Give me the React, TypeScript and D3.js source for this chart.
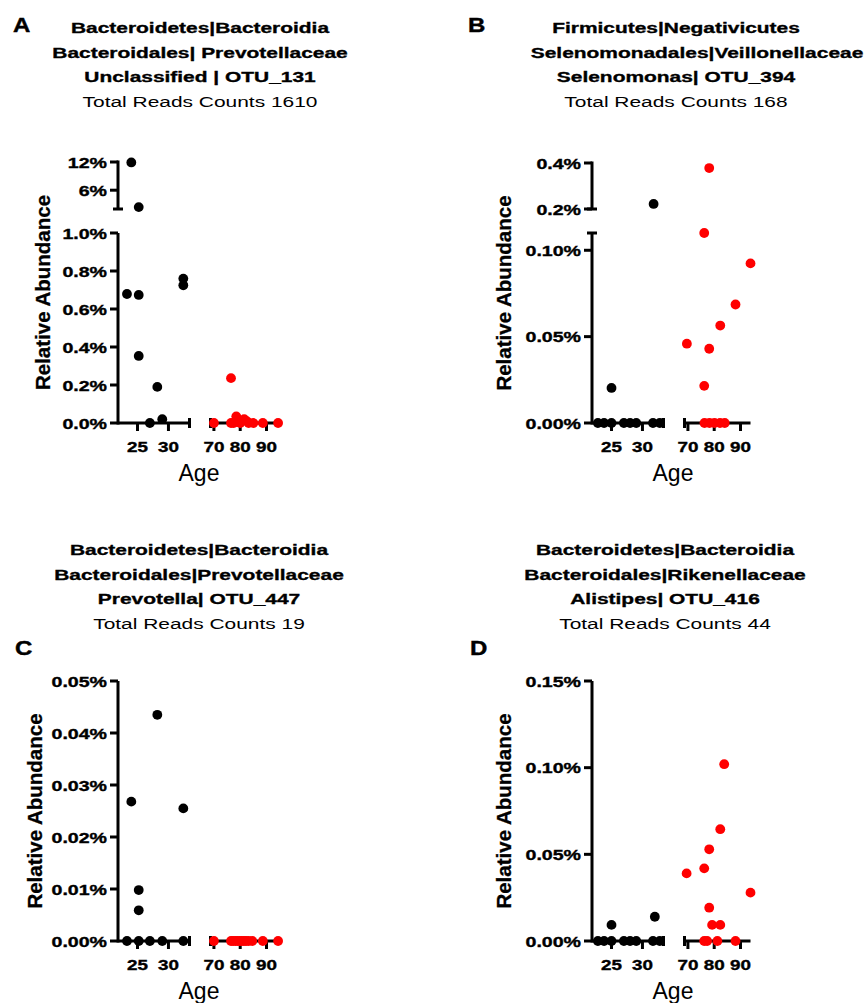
import React from "react";
import * as d3 from "d3";

type Pt = [number, number]; // [age, relative abundance in %]

const youngTicks = [25, 30];
const oldTicks = [70, 80, 90];

// A: Prevotellaceae OTU_131
const youngA: Pt[] = [
  [23.3, 0.679], [24, 11.9], [25.2, 2.4], [25.2, 0.674], [25.2, 0.353],
  [27, 0], [28.2, 0.19], [29, 0.02], [32.4, 0.76], [32.4, 0.725],
];
const oldA: Pt[] = [
  [70, 0], [76.5, 0.236], [76.5, 0], [77.5, 0], [78.5, 0.035], [79.2, 0.01],
  [80, 0], [81.5, 0.02], [82.5, 0.01], [83.2, 0], [85, 0], [88.6, 0], [94.4, 0],
];

// B: Selenomonas OTU_394
const youngB: Pt[] = [
  [22.8, 0], [23.8, 0], [25, 0], [25, 0.0203], [27, 0], [28, 0], [29, 0],
  [31.7, 0], [32.8, 0], [31.8, 0.222],
];
const oldB: Pt[] = [
  [69.6, 0.0459], [76.2, 0.11], [76.2, 0.0215], [78.1, 0.378], [78.1, 0.043],
  [82.3, 0.0564], [88.1, 0.0686], [93.8, 0.0924],
  [76.3, 0], [78.2, 0], [80.1, 0], [82.2, 0], [84, 0],
];

// C: Prevotella OTU_447
const youngC: Pt[] = [
  [23.3, 0], [24, 0.0268], [25.2, 0.0098], [25.2, 0.0059], [25.2, 0], [27, 0],
  [28.2, 0.0435], [29, 0], [32.4, 0.0255], [32.4, 0],
];
const oldC: Pt[] = [
  [70, 0], [76.5, 0], [77.3, 0], [78.2, 0], [79, 0], [79.8, 0], [80.6, 0],
  [81.4, 0], [82.2, 0], [83.2, 0], [84.6, 0], [88.6, 0], [94.4, 0],
];

// D: Alistipes OTU_416
const youngD: Pt[] = [
  [22.8, 0], [23.8, 0], [25, 0], [25, 0.0093], [27, 0], [28, 0], [29, 0],
  [31.7, 0], [32.8, 0], [32, 0.014],
];
const oldD: Pt[] = [
  [69.5, 0.039], [76.2, 0.0419], [76.2, 0], [77.3, 0], [78.1, 0.0529],
  [78.1, 0.0192], [79.2, 0.0093], [81.2, 0], [82.3, 0.0093], [82.3, 0.0645],
  [83.8, 0.102], [88.1, 0], [93.8, 0.0279],
];

const titleA = ["Bacteroidetes|Bacteroidia", "Bacteroidales| Prevotellaceae", "Unclassified | OTU_131", "Total Reads Counts 1610"];
const titleB = ["Firmicutes|Negativicutes", "Selenomonadales|Veillonellaceae", "Selenomonas| OTU_394", "Total Reads Counts 168"];
const titleC = ["Bacteroidetes|Bacteroidia", "Bacteroidales|Prevotellaceae", "Prevotella| OTU_447", "Total Reads Counts 19"];
const titleD = ["Bacteroidetes|Bacteroidia", "Bacteroidales|Rikenellaceae", "Alistipes| OTU_416", "Total Reads Counts 44"];

const FONT = "'Liberation Sans', Arial, Helvetica, sans-serif";
const SX = 1.35; // the figure's labels are set in a wide face

const fmt1 = (d: number) => d.toFixed(1) + "%";
const fmt2 = (d: number) => d.toFixed(2) + "%";
const fmt0 = (d: number) => d + "%";

const panels = [
  {
    letter: "A", lx: 13, ly: 32, tx: 200, ty: 33, tdx: [0, 0, 0, 0], title: titleA,
    axisX: 118, y0: 423, lowTop: 233, lowMax: 1.0, lowTicks: [0, 0.2, 0.4, 0.6, 0.8, 1.0], lowFmt: fmt1,
    upper: { min: 2, max: 12, bottom: 209, top: 162, ticks: [6, 12], fmt: fmt0 },
    yLabelX: 50, young: youngA, old: oldA,
  },
  {
    letter: "B", lx: 468, ly: 32, tx: 676, ty: 33, tdx: [0, 21, 0, 0], title: titleB,
    axisX: 592, y0: 423, lowTop: 233, lowMax: 0.11, lowTicks: [0, 0.05, 0.1], lowFmt: fmt2,
    upper: { min: 0.2, max: 0.4, bottom: 209, top: 163, ticks: [0.2, 0.4], fmt: fmt1 },
    yLabelX: 511, young: youngB, old: oldB,
  },
  {
    letter: "C", lx: 15, ly: 655, tx: 199, ty: 555, tdx: [0, 0, 0, 0], title: titleC,
    axisX: 118, y0: 941, lowTop: 681, lowMax: 0.05, lowTicks: [0, 0.01, 0.02, 0.03, 0.04, 0.05], lowFmt: fmt2,
    upper: null,
    yLabelX: 42, young: youngC, old: oldC,
  },
  {
    letter: "D", lx: 470, ly: 655, tx: 665, ty: 555, tdx: [0, 0, 0, 0], title: titleD,
    axisX: 592, y0: 941, lowTop: 681, lowMax: 0.15, lowTicks: [0, 0.05, 0.1, 0.15], lowFmt: fmt2,
    upper: null,
    yLabelX: 511, young: youngD, old: oldD,
  },
];

function WideText({ x, y, size, weight, anchor, sx, children }: any) {
  const bold = weight === "bold";
  return (
    <text
      transform={`translate(${x},${y}) scale(${sx},1)`}
      fontSize={size}
      fontWeight={weight}
      textAnchor={anchor}
      fontFamily={FONT}
      fill="#000"
      stroke={bold ? "#000" : "none"}
      strokeWidth={bold ? 0.35 : 0}
    >
      {children}
    </text>
  );
}

function Panel({ p }: any) {
  const xYoung = d3.scaleLinear().domain([21.85, 33.4]).range([p.axisX, p.axisX + 71.5]);
  const xOld = d3.scaleLinear().domain([68.7, 93.8]).range([p.axisX + 92.5, p.axisX + 158.5]);
  const yLow = d3.scaleLinear().domain([0, p.lowMax]).range([p.y0, p.lowTop]);
  const yUp = p.upper
    ? d3.scaleLinear().domain([p.upper.min, p.upper.max]).range([p.upper.bottom, p.upper.top])
    : null;
  const yOf = (v: number) => (yUp && v > p.lowMax ? yUp(v) : yLow(v));
  const sw = 3;
  const tick = 8;
  const cap = 5;

  return (
    <g>
      <text x={p.lx} y={p.ly} fontSize={20} fontWeight="bold" fontFamily={FONT}
        stroke="#000" strokeWidth={0.4}
        transform={`translate(${p.lx},0) scale(1.2,1) translate(${-p.lx},0)`}>
        {p.letter}
      </text>
      {p.title.map((t: string, i: number) => (
        <WideText key={i} x={p.tx + p.tdx[i]} y={p.ty + i * 24.5} size={15.5}
          weight={i < 3 ? "bold" : "normal"} anchor="middle" sx={SX}>
          {t}
        </WideText>
      ))}

      {/* y axis, lower segment */}
      <line x1={p.axisX} x2={p.axisX} y1={p.y0 + sw / 2} y2={p.lowTop} stroke="#000" strokeWidth={sw} />
      {p.lowTicks.map((t: number) => (
        <g key={"yl" + t}>
          <line x1={p.axisX - tick} x2={p.axisX} y1={yLow(t)} y2={yLow(t)} stroke="#000" strokeWidth={sw} />
          <WideText x={p.axisX - 11} y={yLow(t) + 5.5} size={14.5} weight="bold" anchor="end" sx={SX}>
            {p.lowFmt(t)}
          </WideText>
        </g>
      ))}
      {p.upper && Math.abs(yLow(p.lowMax) - yLow(p.lowTicks[p.lowTicks.length - 1])) > 1 && (
        <line x1={p.axisX - cap} x2={p.axisX + cap} y1={p.lowTop} y2={p.lowTop} stroke="#000" strokeWidth={sw} />
      )}

      {/* y axis, upper segment */}
      {p.upper && yUp && (
        <g>
          <line x1={p.axisX} x2={p.axisX} y1={p.upper.bottom} y2={p.upper.top - sw / 2} stroke="#000" strokeWidth={sw} />
          <line x1={p.axisX - cap} x2={p.axisX + cap} y1={p.upper.bottom} y2={p.upper.bottom} stroke="#000" strokeWidth={sw} />
          {p.upper.ticks.map((t: number) => (
            <g key={"yu" + t}>
              <line x1={p.axisX - tick} x2={p.axisX} y1={yUp(t)} y2={yUp(t)} stroke="#000" strokeWidth={sw} />
              <WideText x={p.axisX - 11} y={yUp(t) + 5.5} size={14.5} weight="bold" anchor="end" sx={SX}>
                {p.upper.fmt(t)}
              </WideText>
            </g>
          ))}
        </g>
      )}

      <text
        transform={`translate(${p.yLabelX},${(p.y0 + (p.upper ? p.upper.top : p.lowTop)) / 2}) rotate(-90)`}
        fontSize={20.5} fontWeight="bold" textAnchor="middle" fontFamily={FONT}
        stroke="#000" strokeWidth={0.3}>
        Relative Abundance
      </text>

      {/* x axis, young segment */}
      <line x1={p.axisX} x2={xYoung.range()[1]} y1={p.y0} y2={p.y0} stroke="#000" strokeWidth={sw} />
      <line x1={xYoung.range()[1]} x2={xYoung.range()[1]} y1={p.y0 - cap} y2={p.y0 + cap} stroke="#000" strokeWidth={sw} />
      {youngTicks.map((t) => (
        <g key={"xy" + t}>
          <line x1={xYoung(t)} x2={xYoung(t)} y1={p.y0} y2={p.y0 + tick} stroke="#000" strokeWidth={sw} />
          <WideText x={xYoung(t)} y={p.y0 + 29} size={14.5} weight="bold" anchor="middle" sx={1.3}>
            {t}
          </WideText>
        </g>
      ))}

      {/* x axis, old segment */}
      <line x1={xOld.range()[0]} x2={xOld.range()[1]} y1={p.y0} y2={p.y0} stroke="#000" strokeWidth={sw} />
      <line x1={xOld.range()[0]} x2={xOld.range()[0]} y1={p.y0 - cap} y2={p.y0 + cap} stroke="#000" strokeWidth={sw} />
      {oldTicks.map((t) => (
        <g key={"xo" + t}>
          <line x1={xOld(t)} x2={xOld(t)} y1={p.y0} y2={p.y0 + tick} stroke="#000" strokeWidth={sw} />
          <WideText x={xOld(t)} y={p.y0 + 29} size={14.5} weight="bold" anchor="middle" sx={1.3}>
            {t}
          </WideText>
        </g>
      ))}

      <text x={p.axisX + 81} y={p.y0 + 58} fontSize={23} textAnchor="middle" fontFamily={FONT}>
        Age
      </text>

      {p.young.map((d: Pt, i: number) => (
        <circle key={"cy" + i} cx={xYoung(d[0])} cy={yOf(d[1])} r={4.9} fill="#000" />
      ))}
      {p.old.map((d: Pt, i: number) => (
        <circle key={"co" + i} cx={xOld(d[0])} cy={yOf(d[1])} r={4.9} fill="#ff0000" />
      ))}
    </g>
  );
}

export default function App() {
  return (
    <div style={{ position: "absolute", left: 0, top: 0 }}>
      <svg width={866} height={1003} style={{ display: "block", background: "#fff" }}>
        {panels.map((p) => (
          <Panel key={p.letter} p={p} />
        ))}
      </svg>
    </div>
  );
}
